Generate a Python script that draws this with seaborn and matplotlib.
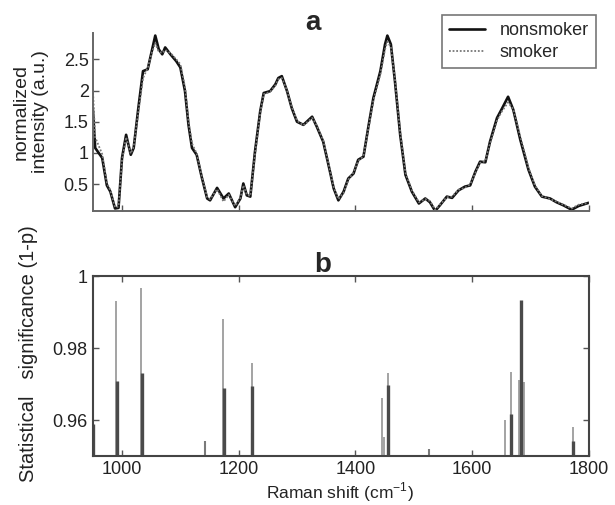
import numpy as np
import pandas as pd
import matplotlib
matplotlib.use("Agg")
import matplotlib.pyplot as plt
import seaborn as sns

# --- panel a: averaged Raman spectra ---
shift = [950, 954, 966, 974, 980, 988, 994, 1000, 1007, 1015, 1020, 1028, 1036, 1044,
         1051, 1057, 1063, 1069, 1074, 1083, 1093, 1100, 1108, 1114, 1120, 1128, 1137,
         1146, 1151, 1163, 1174, 1183, 1194, 1203, 1208, 1214, 1220, 1228, 1237, 1243,
         1254, 1263, 1268, 1274, 1283, 1291, 1300, 1311, 1326, 1334, 1345, 1354, 1363,
         1371, 1380, 1388, 1397, 1405, 1414, 1423, 1431, 1443, 1451, 1455, 1461, 1468,
         1477, 1486, 1497, 1509, 1520, 1528, 1537, 1545, 1557, 1566, 1577, 1588, 1597,
         1606, 1614, 1623, 1631, 1643, 1651, 1662, 1671, 1683, 1697, 1708, 1720, 1734,
         1745, 1757, 1771, 1783, 1800]
nonsmoker = [1.70, 1.08, 0.92, 0.48, 0.38, 0.11, 0.12, 0.92, 1.29, 0.97, 1.08, 1.72, 2.31, 2.34,
             2.63, 2.88, 2.66, 2.58, 2.69, 2.58, 2.47, 2.37, 1.99, 1.45, 1.08, 0.97, 0.60,
             0.27, 0.24, 0.44, 0.27, 0.35, 0.13, 0.27, 0.51, 0.32, 0.30, 1.02, 1.67, 1.96,
             1.99, 2.10, 2.20, 2.23, 1.99, 1.72, 1.50, 1.45, 1.58, 1.42, 1.18, 0.81, 0.43,
             0.24, 0.38, 0.59, 0.67, 0.89, 0.94, 1.45, 1.88, 2.31, 2.74, 2.88, 2.74, 2.15,
             1.29, 0.65, 0.38, 0.19, 0.27, 0.21, 0.07, 0.16, 0.30, 0.28, 0.40, 0.46, 0.48,
             0.70, 0.86, 0.85, 1.18, 1.56, 1.70, 1.90, 1.69, 1.21, 0.73, 0.46, 0.30, 0.27,
             0.21, 0.16, 0.09, 0.15, 0.20]
smoker = [2.02, 1.25, 0.98, 0.52, 0.40, 0.13, 0.14, 0.88, 1.25, 0.99, 1.10, 1.66, 2.20, 2.36,
          2.60, 2.76, 2.62, 2.60, 2.65, 2.60, 2.50, 2.42, 2.05, 1.50, 1.15, 0.99, 0.62,
          0.29, 0.26, 0.42, 0.22, 0.33, 0.15, 0.28, 0.48, 0.33, 0.31, 0.98, 1.64, 1.94,
          1.98, 2.08, 2.18, 2.20, 2.00, 1.74, 1.52, 1.44, 1.56, 1.44, 1.20, 0.83, 0.45,
          0.26, 0.36, 0.57, 0.69, 0.87, 0.95, 1.42, 1.84, 2.26, 2.66, 2.78, 2.70, 2.18,
          1.33, 0.68, 0.40, 0.21, 0.26, 0.23, 0.09, 0.17, 0.29, 0.30, 0.41, 0.44, 0.50,
          0.68, 0.84, 0.87, 1.15, 1.52, 1.66, 1.81, 1.70, 1.26, 0.76, 0.48, 0.31, 0.26,
          0.22, 0.17, 0.11, 0.17, 0.20]

# --- panel b: statistical significance (1-p) at selected shifts ---
sig_shift = [951, 990, 1033, 1142, 1174, 1223, 1446, 1450, 1456, 1527, 1657, 1667,
             1681, 1690, 1773,
             991, 1034, 1175, 1223, 1223, 1456, 1667, 1685, 1773]
sig_value = [0.959, 0.993, 0.9966, 0.9543, 0.988, 0.976, 0.966, 0.9554, 0.973, 0.952, 0.960, 0.9734,
             0.9711, 0.9705, 0.958,
             0.9708, 0.973, 0.9688, 0.9694, 0.9564, 0.9697, 0.9617, 0.9933, 0.9542]
sig_tone = ["dark", "light", "light", "mid", "light", "light", "light", "light", "light", "mid", "light", "light",
            "light", "light", "light",
            "dark", "dark", "dark", "dark", "mid", "dark", "dark", "dark", "dark"]

sns.set_theme(style="white")
plt.rcParams['font.family'] = ['Liberation Sans', 'DejaVu Sans']
plt.rcParams['xtick.direction'] = 'in'
plt.rcParams['ytick.direction'] = 'in'

fig = plt.figure(figsize=(6.15, 5.05), dpi=100)
ax1 = fig.add_axes([0.151, 0.582, 0.806, 0.352])
ax2 = fig.add_axes([0.151, 0.097, 0.806, 0.356])

spec = pd.DataFrame({"shift": shift, "nonsmoker": nonsmoker, "smoker": smoker})
sns.lineplot(data=spec, x="shift", y="nonsmoker", ax=ax1, color="#111111", lw=1.9,
             label="nonsmoker")
sns.lineplot(data=spec, x="shift", y="smoker", ax=ax1, color="#777777", lw=1.3,
             linestyle=(0, (1, 1)), label="smoker")
ax1.set_xlim(950, 1800)
ax1.set_ylim(0.068, 2.916)
ax1.set_xticks([1000, 1200, 1400, 1600, 1800])
ax1.set_xticklabels([])
ax1.set_yticks([0.5, 1, 1.5, 2, 2.5])
ax1.set_yticklabels(["0.5", "1", "1.5", "2", "2.5"])
ax1.set_xlabel("")
ax1.set_ylabel("")
for s in ["top", "right"]:
    ax1.spines[s].set_visible(False)
for s in ["left", "bottom"]:
    ax1.spines[s].set_color("#666666")
    ax1.spines[s].set_linewidth(1.4)
ax1.tick_params(axis="both", which="both", length=4, width=1, color="#555555",
                labelsize=13, labelcolor="#222222", pad=3, left=True, bottom=True)
leg = ax1.legend(loc="upper right", bbox_to_anchor=(0.969, 0.970),
                 bbox_transform=fig.transFigure, fontsize=13, frameon=True,
                 fancybox=False, handlelength=2.0, borderpad=0.4, labelspacing=0.25,
                 handletextpad=0.8, borderaxespad=0)
leg.get_frame().set_edgecolor("#555555")
leg.get_frame().set_linewidth(1.2)

tone_color = {"light": "#a3a3a3", "mid": "#7a7a7a", "dark": "#4a4a4a"}
tone_width = {"light": 1.4, "mid": 1.5, "dark": 2.4}
for tone in ["light", "mid", "dark"]:
    xs = [x for x, t in zip(sig_shift, sig_tone) if t == tone]
    ys = [y for y, t in zip(sig_value, sig_tone) if t == tone]
    ax2.vlines(xs, 0.95, ys, color=tone_color[tone], lw=tone_width[tone])
ax2.set_xlim(950, 1800)
ax2.set_ylim(0.95, 1.0)
ax2.set_xticks([1000, 1200, 1400, 1600, 1800])
ax2.set_yticks([0.96, 0.98, 1.0])
ax2.set_yticklabels(["0.96", "0.98", "1"])
for s in ax2.spines.values():
    s.set_visible(True)
    s.set_color("#444444")
    s.set_linewidth(1.5)
ax2.tick_params(axis="both", which="both", length=4, width=1, color="#555555",
                labelsize=13, labelcolor="#222222", top=True, right=True,
                left=True, bottom=True)
ax2.tick_params(axis="x", pad=3.5)
ax2.tick_params(axis="y", pad=4)

fig.text(313 / 615, 1 - 23 / 505, "a", fontsize=20, fontweight="bold",
         ha="center", va="center")
fig.text(323 / 615, 1 - 265 / 505, "b", fontsize=20, fontweight="bold",
         ha="center", va="center")
fig.text(31 / 615, 1 - 112 / 505, "normalized\nintensity (a.u.)", fontsize=14,
         rotation=90, ha="center", va="center", multialignment="center", color="#222222")
fig.text(28 / 615, 1 - 354 / 505, "Statistical   significance (1-p)", fontsize=14.5,
         rotation=90, ha="center", va="center", color="#222222")
fig.text(340 / 615, 1 / 505, "Raman shift (cm$^{\\mathregular{-1}}$)", fontsize=12.5,
         ha="center", va="bottom", color="#222222")

fig.savefig("out.png", dpi=100)
